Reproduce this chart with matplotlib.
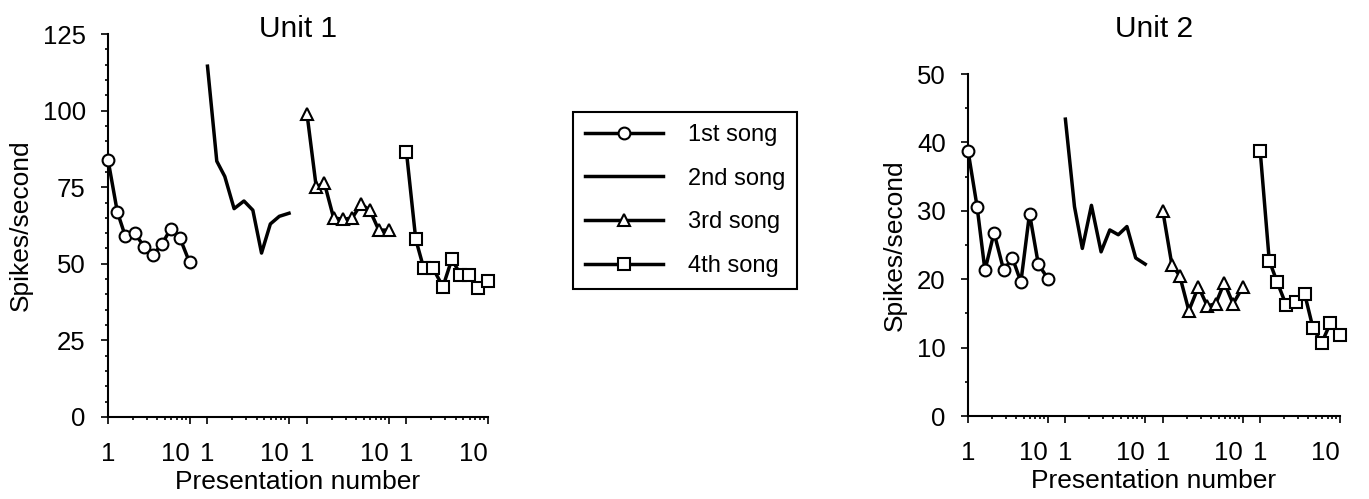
import numpy as np
import matplotlib.pyplot as plt
from matplotlib.lines import Line2D

plt.rcParams['font.family'] = ['Liberation Sans', 'DejaVu Sans']

# presentation numbers (log spaced)
presentation = [1, 1.3, 1.63, 2.12, 2.8, 3.6, 4.6, 5.9, 7.6, 10]

songs = ['1st song', '2nd song', '3rd song', '4th song']
markers = ['o', None, '^', 's']

# Unit 1, spikes/second
unit1_song1 = [84, 67, 59, 60, 55.5, 53, 56.5, 61.5, 58.5, 50.5]
unit1_song2 = [114.5, 83.5, 78.5, 68, 70.5, 67.5, 53.5, 63, 65.5, 66.5]
unit1_song3 = [99, 75, 76.5, 65, 64.5, 65, 69.5, 67.5, 61, 61]
unit1_song4 = [86.5, 58, 48.5, 48.5, 42.5, 51.5, 46.5, 46.5, 42, 44.5]

# Unit 2, spikes/second
unit2_song1 = [38.8, 30.6, 21.3, 26.8, 21.3, 23.1, 19.6, 29.6, 22.2, 20.1]
unit2_song2 = [43.4, 30.6, 24.5, 30.8, 24.0, 27.2, 26.5, 27.7, 23.1, 22.2]
unit2_song3 = [30.0, 22.1, 20.5, 15.4, 18.9, 16.1, 16.4, 19.5, 16.4, 18.8]
unit2_song4 = [38.8, 22.7, 19.6, 16.2, 16.6, 17.9, 12.8, 10.7, 13.6, 11.8]

PERIOD = 1.22  # one decade plus the gap between song blocks
LW = 2.5
MS = 8.5
MEW = 1.5


def draw_unit(ax, series, ymax, ystep, yminor, title_x, title):
    for k, vals in enumerate(series):
        x = k * PERIOD + np.log10(presentation)
        ax.plot(x, vals, color='black', lw=LW, marker=markers[k], ms=MS,
                mfc='white', mec='black', mew=MEW, clip_on=False, zorder=3)

    ax.set_xlim(0, 3 * PERIOD + 1)
    ax.set_ylim(0, ymax)
    major = []
    labels = []
    minor = []
    for k in range(4):
        major += [k * PERIOD, k * PERIOD + 1]
        labels += ['1', '10']
        minor += [k * PERIOD + np.log10(m) for m in range(2, 10)]
    ax.set_xticks(major)
    ax.set_xticklabels(labels)
    # the "10" labels sit to the left of their tick
    for lab in ax.get_xticklabels():
        if lab.get_text() == '10':
            lab.set_horizontalalignment('right')
    ax.set_xticks(minor, minor=True)
    ax.set_yticks(np.arange(0, ymax + 1, ystep))
    ax.set_yticks(np.arange(0, ymax + 1, yminor), minor=True)

    for s in ['top', 'right']:
        ax.spines[s].set_visible(False)
    for s in ['left', 'bottom']:
        ax.spines[s].set_linewidth(1.5)
    ax.tick_params(axis='both', which='major', length=5, width=1.2,
                   labelsize=18.5, direction='out')
    ax.tick_params(axis='both', which='minor', length=2.5, width=1.2,
                   direction='out')
    ax.tick_params(axis='x', which='major', pad=13)
    ax.tick_params(axis='y', which='major', pad=11)
    ax.set_xlabel('Presentation number', fontsize=19, labelpad=3)
    ax.set_ylabel('Spikes/second', fontsize=19, labelpad=7)
    ax.figure.text(title_x, 1 - 37 / 499, title, fontsize=21.5,
                   ha='center', va='baseline')


fig = plt.figure(figsize=(13.69, 4.99), dpi=100)
ax1 = fig.add_axes([108 / 1369, 1 - 417 / 499, 380 / 1369, 383 / 499])
ax2 = fig.add_axes([968 / 1369, 1 - 416 / 499, 372 / 1369, 342 / 499])

draw_unit(ax1, [unit1_song1, unit1_song2, unit1_song3, unit1_song4],
          125, 25, 5, 298 / 1369, 'Unit 1')
draw_unit(ax2, [unit2_song1, unit2_song2, unit2_song3, unit2_song4],
          50, 10, 5, 1154 / 1369, 'Unit 2')

handles = [Line2D([], [], color='black', lw=LW, marker=m, ms=MS,
                  mfc='white', mec='black', mew=MEW) for m in markers]
leg = fig.legend(handles, songs, loc='upper left',
                 bbox_to_anchor=(573 / 1369, 1 - 112 / 499),
                 borderaxespad=0, fontsize=17, handlelength=3.3,
                 handletextpad=1.05, labelspacing=0.92, borderpad=0.5,
                 fancybox=False, edgecolor='black', framealpha=1)
leg.get_frame().set_linewidth(1.5)

fig.savefig('out.png', dpi=100)
